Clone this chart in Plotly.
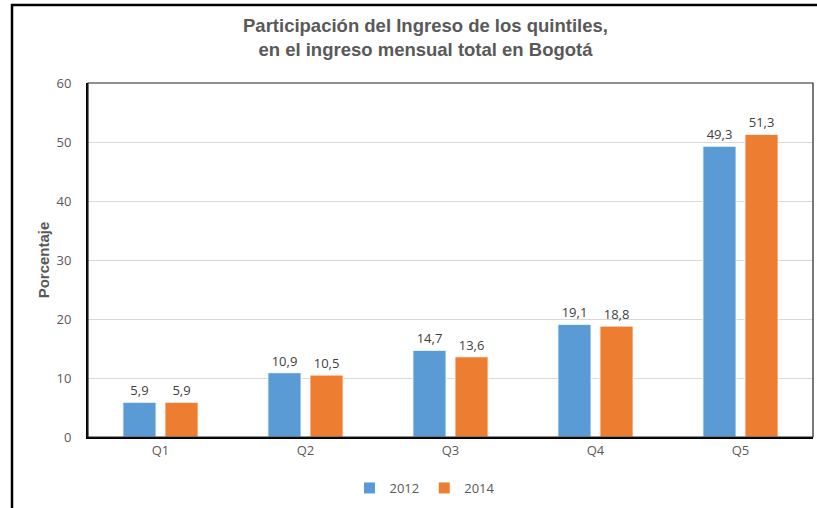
import plotly.graph_objects as go

categories = ["Q1", "Q2", "Q3", "Q4", "Q5"]
values_2012 = [5.9, 10.9, 14.7, 19.1, 49.3]
values_2014 = [5.9, 10.5, 13.6, 18.8, 51.3]
series_names = ["2012", "2014"]
y_ticks = [0, 10, 20, 30, 40, 50, 60]
title_lines = ["Participación del Ingreso de los quintiles,",
               "en el ingreso mensual total en Bogotá"]

W, H = 817, 508
L, R, T, B = 88, 4, 83, 71
pw, ph = W - L - R, H - T - B

def fmt(v):
    return f"{v:.1f}".replace(".", ",")

def px_x(x):
    return (x - L) / pw
def px_y(y):
    return (H - B - y) / ph

fig = go.Figure()
for name, vals, color in [(series_names[0], values_2012, "#5B9BD5"),
                          (series_names[1], values_2014, "#ED7D31")]:
    fig.add_trace(go.Bar(
        x=categories, y=vals, name=name,
        marker=dict(color=color, line=dict(color="white", width=1)),
        text=[fmt(v) for v in vals], textposition="outside",
        textfont=dict(size=13, color="#404040", family="Open Sans"),
        cliponaxis=False,
    ))

fig.add_shape(type="rect", xref="paper", yref="paper",
              x0=px_x(12), x1=px_x(830), y0=px_y(520), y1=px_y(5),
              line=dict(color="black", width=2.5), layer="above")
fig.add_shape(type="rect", xref="paper", yref="paper",
              x0=0, x1=1, y0=0, y1=1,
              line=dict(color="#222222", width=1.2), layer="above")

fig.add_annotation(
    text="<b>" + "<br>".join(title_lines) + "</b>", xref="paper", yref="paper",
    x=px_x(425), y=px_y(38), xanchor="center", yanchor="middle",
    showarrow=False, align="center",
    font=dict(family="Liberation Sans", size=18.5, color="#595959"),
)

fig.update_layout(
    width=W, height=H,
    margin=dict(l=L, r=R, t=T, b=B),
    paper_bgcolor="white", plot_bgcolor="white",
    barmode="group", bargap=0.42, bargroupgap=0.21,
    xaxis=dict(
        showline=True, linecolor="black", linewidth=2,
        tickfont=dict(family="Open Sans", size=13, color="#595959"),
        ticks="", showgrid=False,
    ),
    yaxis=dict(
        range=[0, 60], tickvals=y_ticks,
        showline=True, linecolor="black", linewidth=2,
        showgrid=True, gridcolor="#D9D9D9", gridwidth=1,
        tickfont=dict(family="Open Sans", size=13, color="#595959"),
        ticks="", ticklabelstandoff=12,
        zeroline=False,
        title=dict(text="<b>Porcentaje</b>", standoff=3,
                   font=dict(family="Liberation Sans", size=15, color="#595959")),
    ),
    legend=dict(
        orientation="h", x=px_x(425), xanchor="center", y=px_y(488), yanchor="middle",
        font=dict(family="Open Sans", size=13, color="#595959"),
        itemwidth=30, traceorder="normal",
    ),
    showlegend=True,
)

fig.write_html("out.html", config={"displayModeBar": False},
               post_script="document.body.style.margin='0';document.body.style.padding='0';")
